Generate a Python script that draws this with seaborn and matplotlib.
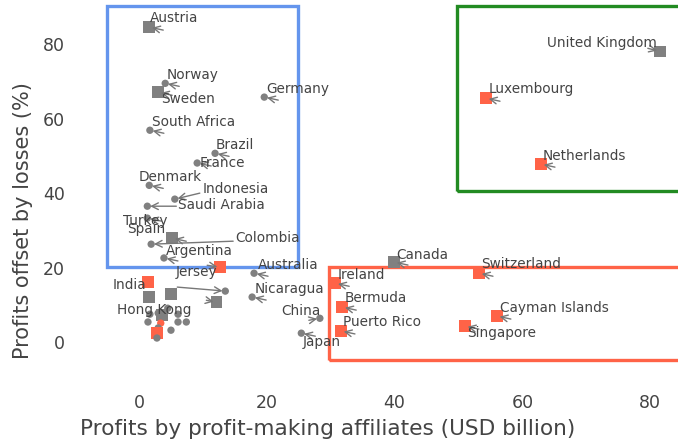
import pandas as pd
import matplotlib
matplotlib.use("Agg")
import matplotlib.pyplot as plt
import seaborn as sns
from matplotlib.patches import Rectangle

# Labelled countries: profits (USD bn), share offset by losses (%), marker kind
countries = ["Austria", "Norway", "Sweden", "Germany", "South Africa", "Brazil",
             "France", "Denmark", "Indonesia", "Saudi Arabia", "Turkey", "Spain",
             "Colombia", "Argentina", "Jersey", "Australia", "Nicaragua", "India",
             "Hong Kong", "China", "Japan", "Canada", "Ireland", "Bermuda",
             "Puerto Rico", "Switzerland", "Cayman Islands", "Singapore",
             "United Kingdom", "Luxembourg", "Netherlands"]
profits = [1.6, 4.1, 3.0, 19.6, 1.7, 11.9, 9.1, 1.6, 5.6, 1.3, 1.3, 5.2,
           1.9, 3.9, 12.7, 18.0, 17.7, 13.5, 12.1, 28.3, 25.4, 39.9, 30.7, 31.8,
           31.6, 53.2, 56.0, 51.0, 81.5, 54.3, 62.9]
offset = [84.6, 69.5, 67.1, 65.8, 56.9, 50.7, 48.1, 42.1, 38.4, 36.5, 33.3, 27.9,
          26.3, 22.6, 20.1, 18.5, 12.1, 13.7, 10.7, 6.4, 2.4, 21.5, 15.8, 9.4,
          3.0, 18.5, 7.0, 4.3, 78.1, 65.5, 47.8]
kind = ["gray_sq", "gray_dot", "gray_sq", "gray_dot", "gray_dot", "gray_dot",
        "gray_dot", "gray_dot", "gray_dot", "gray_dot", "gray_dot", "gray_sq",
        "gray_dot", "gray_dot", "red_sq", "gray_dot", "gray_dot", "gray_dot",
        "gray_sq", "gray_dot", "gray_dot", "gray_sq", "red_sq", "red_sq",
        "red_sq", "red_sq", "red_sq", "red_sq", "gray_sq", "red_sq", "red_sq"]

# Unlabelled small economies in the bottom-left cluster
other_profits = [1.4, 1.6, 5.0, 1.7, 1.4, 3.0, 3.6, 4.5, 6.1, 6.1, 7.4, 3.4,
                 3.0, 2.8, 2.8, 5.0]
other_offset = [16.1, 12.1, 12.9, 7.5, 5.4, 7.8, 7.2, 9.1, 7.5, 5.4, 5.4, 5.1,
                3.8, 2.4, 1.1, 3.2]
other_kind = ["red_sq", "gray_sq", "gray_sq", "gray_dot", "gray_dot", "gray_dot",
              "gray_sq", "gray_dot", "gray_dot", "gray_dot", "gray_dot", "red_dot",
              "gray_dot", "red_sq", "gray_dot", "gray_dot"]

df = pd.DataFrame({
    "profits": profits + other_profits,
    "offset": offset + other_offset,
    "kind": kind + other_kind,
})
df["colour"] = df["kind"].str.split("_").str[0]
df["shape"] = df["kind"].str.split("_").str[1]

# label offsets (pixels) and arrow tail offsets, per country
label_pos = {
    "Austria": (1, 9), "Norway": (1, 8), "Sweden": (3, -7), "Germany": (2, 8),
    "South Africa": (2, 8), "Brazil": (1, 8), "France": (2, 0),
    "Denmark": (-11, 8), "Indonesia": (28, 10), "Saudi Arabia": (31, 1),
    "Turkey": (-24, -3), "Spain": (-45, 9), "Colombia": (84, 6),
    "Argentina": (2, 7), "Jersey": (-44, -5), "Australia": (4, 8),
    "Nicaragua": (2, 8), "India": (-113, 6), "Hong Kong": (-99, -8),
    "China": (-39, 7), "Japan": (1, -9), "Canada": (2, 7), "Ireland": (2, 8),
    "Bermuda": (2, 9), "Puerto Rico": (2, 9), "Switzerland": (2, 9),
    "Cayman Islands": (3, 8), "Singapore": (2, -7), "United Kingdom": (-3, 8),
    "Luxembourg": (3, 9), "Netherlands": (2, 8),
}
arrow_tail = {
    "Indonesia": (25, 6), "Saudi Arabia": (29, 0), "Colombia": (82, 3),
    "India": (-48, 4), "Hong Kong": (-10, 2), "Jersey": (-13, 2),
    "China": (-11, -2), "United Kingdom": (-12, 3),
}

sns.set_theme(style="white")
plt.rcParams["font.family"] = ["DejaVu Sans"]
text_col = "#444444"

fig = plt.figure(figsize=(6.78, 4.44), dpi=100)
ax = fig.add_axes([0.1485, 0.154, 0.852, 0.847])

sns.scatterplot(data=df, x="profits", y="offset", hue="colour", style="shape",
                size="shape", sizes={"dot": 28, "sq": 70},
                markers={"dot": "o", "sq": "s"},
                palette={"gray": "#808080", "red": "#FF6347"},
                linewidth=0, legend=False, ax=ax, zorder=3)

for name, px, py in zip(countries, profits, offset):
    tx, ty = arrow_tail.get(name, (14, -3))
    ax.annotate("", xy=(px, py), xytext=(tx, ty), textcoords="offset pixels",
                arrowprops=dict(arrowstyle="->", color="#777777", lw=1,
                                shrinkA=0, shrinkB=2, mutation_scale=12),
                zorder=4)
    lx, ly = label_pos[name]
    ha = "right" if name == "United Kingdom" else "left"
    ax.annotate(name, xy=(px, py), xytext=(lx, ly), textcoords="offset pixels",
                ha=ha, va="center", fontsize=9.8, color=text_col, zorder=5)

# highlight boxes
boxes = [(-5, 20.3, 29.9, 70, "#6495ED"),
         (49.8, 40.5, 60, 49.8, "#228B22"),
         (29.7, -4.8, 70, 25, "#FF6347")]
for bx, by, bw, bh, c in boxes:
    ax.add_patch(Rectangle((bx, by), bw, bh, fill=False, edgecolor=c, lw=2.4,
                           zorder=2, clip_on=True))

ax.set_xlim(-6, 84.4)
ax.set_ylim(-9, 92)
ax.set_xticks([0, 20, 40, 60, 80])
ax.set_yticks([0, 20, 40, 60, 80])
ax.tick_params(axis="both", length=0, labelsize=12.5, colors=text_col)
ax.tick_params(axis="y", pad=26)
ax.tick_params(axis="x", pad=13)
for s in ax.spines.values():
    s.set_visible(False)
ax.set_xlabel("Profits by profit-making affiliates (USD billion)", fontsize=15.6,
              color=text_col)
ax.set_ylabel("Profits offset by losses (%)", fontsize=15, color=text_col)
ax.xaxis.set_label_coords(0.3935, -0.116)
ax.yaxis.set_label_coords(-0.117, 0.4136)

fig.savefig("out.png", dpi=100)
